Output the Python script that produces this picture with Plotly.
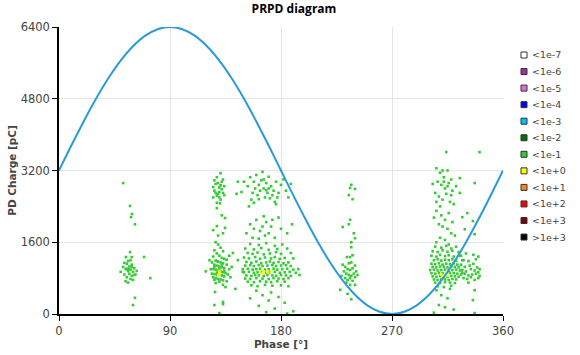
import plotly.graph_objects as go

# ---- reference sine (phase in degrees, charge in pC) ----
SINE_PHASE = [0, 10, 20, 30, 40, 50, 60, 70, 80, 90, 100, 110, 120, 130, 140, 150, 160, 170, 180,
              190, 200, 210, 220, 230, 240, 250, 260, 270, 280, 290, 300, 310, 320, 330, 340, 350, 360]
SINE_CHARGE = [3200, 3756, 4294, 4800, 5257, 5651, 5971, 6207, 6351, 6400, 6351, 6207, 5971, 5651, 5257,
               4800, 4294, 3756, 3200, 2644, 2106, 1600, 1143, 749, 429, 193, 49, 0, 49, 193, 429, 749,
               1143, 1600, 2106, 2644, 3200]

# ---- PD pulses, rate class "<1e-1" (green) : (phase, charge) ----
CLUSTER_A = [(52, 2920), (57.6, 2410), (59.2, 2230), (58.4, 2160), (61.6, 2000), (57.6, 1380), (54.3, 1270),
             (59, 1270), (69, 1270), (74, 800), (61.6, 360), (60, 200),
             (50, 940), (52, 1050), (53, 880), (54, 1000), (55, 1120), (55, 820), (56, 960), (56, 1180),
             (57, 900), (57, 1060), (58, 780), (58, 990), (59, 1100), (59, 850), (60, 940), (61, 1020),
             (62, 880), (63, 960), (54, 730), (56, 700), (58, 1200), (60, 760), (53, 1140), (57, 1000),
             (61, 870), (55, 1010), (59, 1050)]

CLUSTER_B = [(125, 2600), (126, 2750), (127, 2900), (128, 3050), (129, 2680), (130, 2820), (131, 3140),
             (132, 2950), (133, 2700), (134, 2850), (126, 2980), (128, 2640), (130, 2600), (132, 2780),
             (127, 2700), (129, 2920), (131, 2870), (133, 3000), (125, 2830), (134, 2650), (130, 2720),
             (128, 2480), (131, 2550),
             (144, 2680), (148, 2720), (128, 2360), (130.5, 2470), (145, 2950),
             (134.6, 2140), (128, 1960), (134.6, 1920), (133, 1800), (125, 1870), (132, 2200), (129, 1750),
             (127, 1600), (129, 1550), (131, 1480), (126, 1420), (133, 1400), (128, 1350), (130, 1300),
             (125, 1280), (132, 1250), (134, 1230), (136, 1210), (127, 1190), (129, 1170), (131, 1150),
             (133, 1130), (126, 1100), (128, 1080), (130, 1060), (132, 1040), (134, 1020), (125, 1000),
             (127, 990), (129, 970), (131, 950), (133, 930), (135, 910), (126, 890), (128, 870), (132, 860),
             (134, 840), (125, 820), (127, 800), (129, 780), (131, 770), (133, 750), (136, 730), (124, 900),
             (123, 1000), (138, 1000), (137, 880), (139, 820), (126, 760), (130, 720), (128, 1180),
             (132, 1100), (130, 1010), (128, 920), (134, 960), (126, 1050), (136, 1100), (124, 1150),
             (138, 1300), (140, 1050), (127, 690), (133, 650),
             (141, 1360), (149, 940), (143, 560), (126.5, 490), (133, 270), (133, 220), (130, 20),
             (126, 200), (122, 1200), (119, 950), (145, 1200), (135, 600)]

CLUSTER_C = [(165, 3170), (155, 3050), (158, 2950), (160, 3100), (162, 2880), (164, 2980), (166, 2800),
             (168, 2920), (170, 3060), (172, 2850), (174, 2750), (176, 2950), (178, 2700), (153, 2850),
             (157, 2700), (159, 2800), (161, 2650), (163, 2750), (167, 2600), (169, 2700), (171, 2580),
             (173, 2650), (175, 2500), (177, 2600), (156, 2550), (158, 2480), (166, 3000), (168, 2760),
             (162, 2560), (170, 2800), (180, 2880), (184, 2750), (186, 2600), (150, 2950), (182, 3000),
             (154, 2400), (188, 2900), (176, 2450),
             (155, 2000), (158, 1900), (160, 2100), (163, 1850), (165, 1950), (167, 1750), (168, 2050),
             (170, 1800), (172, 1950), (175, 1700), (178, 2150), (180, 1900), (157, 1700), (162, 1680),
             (173, 2100), (185, 1800), (189, 2000), (152, 1800), (166, 2180),
             (155, 1560), (162, 1540), (168, 1580), (175, 1520), (181, 1550),
             (151, 1460), (158, 1440), (164, 1470), (170, 1430), (177, 1450), (185, 1460),
             (153, 1360), (157, 1340), (161, 1370), (166, 1330), (171, 1350), (176, 1380), (180, 1340),
             (188, 1360),
             (150, 1260), (154, 1240), (159, 1270), (163, 1230), (167, 1260), (172, 1240), (175, 1270),
             (179, 1230), (183, 1250), (190, 1240),
             (152, 1160), (156, 1140), (160, 1170), (164, 1130), (168, 1150), (171, 1170), (174, 1140),
             (178, 1160), (182, 1130), (186, 1150),
             (151, 1080), (155, 1090), (158, 1070), (162, 1090), (165, 1070), (169, 1080), (173, 1090),
             (176, 1070), (180, 1080), (184, 1090), (188, 1070),
             (149, 1000), (153, 1010), (157, 990), (160, 1000), (163, 1010), (167, 990), (170, 1000),
             (174, 1010), (177, 990), (181, 1000), (185, 1010), (190, 990), (194, 1000),
             (150, 930), (154, 940), (158, 920), (161, 930), (164, 940), (168, 920), (171, 930), (175, 940),
             (179, 920), (183, 930), (187, 940), (192, 920),
             (152, 860), (156, 850), (159, 870), (162, 860), (166, 850), (169, 870), (173, 860), (176, 850),
             (180, 870), (184, 860), (188, 850), (195, 870),
             (151, 790), (155, 780), (160, 800), (165, 790), (170, 780), (174, 800), (178, 790), (182, 780),
             (186, 800),
             (153, 720), (158, 710), (163, 730), (168, 720), (172, 710), (177, 730), (183, 720),
             (156, 640), (161, 620), (167, 650), (173, 630), (180, 640), (186, 620),
             (160, 520), (172, 480), (165, 420), (178, 380), (155, 350), (170, 300), (183, 250), (162, 180),
             (175, 120), (190, 60), (168, 40), (185, 10)]

CLUSTER_D = [(237, 2880), (236, 2810), (240, 2790), (235, 2650), (238, 2560), (236, 2100), (230, 1940),
             (235, 2000), (239, 1800), (240, 1690), (237, 1600), (237, 1490), (233.5, 1270), (236, 1270),
             (238, 1310),
             (230, 1100), (232, 1050), (234, 1000), (236, 980), (238, 1020), (240, 1080), (231, 950),
             (233, 900), (235, 870), (237, 850), (239, 900), (241, 950), (232, 800), (234, 760), (236, 800),
             (238, 740), (240, 820), (229, 850), (242, 870), (235, 1130), (237, 1150), (233, 700),
             (236, 650),
             (228, 540), (237, 330), (240, 650), (234, 450)]

CLUSTER_E = [(314, 3610),
             (306, 3250), (309, 3150), (312, 3050), (315, 3200), (318, 3000), (307, 2950), (310, 2880),
             (313, 2800), (316, 2920), (319, 2750), (305, 2700), (308, 2620), (311, 2550), (314, 2680),
             (317, 2500), (320, 2450), (309, 2400), (312, 2950), (315, 2850), (306, 2500), (318, 2650),
             (322, 2850), (303, 2900), (311, 3200),
             (306, 2300), (310, 2200), (313, 2100), (316, 2250), (308, 2000), (311, 1950), (315, 1900),
             (319, 2050), (304, 2150), (318, 1800), (309, 1700), (313, 1650), (306, 1600), (316, 1550),
             (321, 1750),
             (305, 1500), (310, 1480), (314, 1520), (318, 1460), (322, 1500),
             (303, 1400), (307, 1380), (311, 1420), (315, 1390), (319, 1410), (324, 1380),
             (302, 1300), (306, 1280), (309, 1320), (313, 1290), (316, 1310), (320, 1280), (326, 1300),
             (304, 1200), (307, 1220), (310, 1190), (313, 1210), (316, 1200), (319, 1220), (322, 1190),
             (328, 1200),
             (302, 1120), (305, 1110), (308, 1130), (311, 1100), (314, 1120), (317, 1110), (320, 1130),
             (323, 1100),
             (303, 1050), (306, 1040), (309, 1060), (312, 1050), (315, 1040), (318, 1060), (321, 1050),
             (324, 1040),
             (301, 980), (304, 990), (307, 970), (310, 980), (313, 990), (316, 970), (319, 980), (322, 990),
             (325, 970),
             (302, 910), (305, 900), (308, 920), (311, 910), (314, 900), (317, 920), (320, 910), (323, 900),
             (327, 920),
             (303, 840), (306, 830), (309, 850), (312, 840), (315, 830), (318, 850), (321, 840), (324, 830),
             (304, 770), (307, 760), (310, 780), (313, 770), (316, 760), (319, 780), (322, 770),
             (305, 700), (309, 690), (313, 710), (317, 700), (321, 690),
             (307, 620), (312, 600), (318, 630),
             (306, 530), (310, 420), (315, 350), (308, 200), (313, 150), (320, 100), (304, 30), (317, 560),
             (325, 1300), (330, 1350), (336, 1320), (340, 1280), (327, 1200), (332, 1180), (338, 1220),
             (326, 1100), (329, 1050), (333, 1080), (336, 1120), (339, 1040), (341, 1000), (327, 980),
             (330, 950), (334, 1000), (337, 970), (340, 930), (326, 880), (329, 900), (332, 860), (335, 880),
             (338, 900), (341, 850), (328, 800), (331, 780), (334, 820), (337, 760), (340, 800), (332, 700),
             (337, 2920), (341, 3610), (325, 3030), (325, 2700), (331, 2250), (335.6, 2070), (329, 1890),
             (337, 1780), (327, 2160), (337, 530), (335.6, 310), (337, 20)]

# ---- PD pulses, rate class "<1e+0" (yellow) ----
YELLOW = [(130, 910), (130, 960), (129, 870), (163, 940), (166, 950), (169, 930), (172, 940), (165, 900),
          (310, 880), (312, 850), (314, 910), (311, 820), (315, 860)]

# ---- legend classes ----
LEGEND_LABELS = ["<1e-7", "<1e-6", "<1e-5", "<1e-4", "<1e-3", "<1e-2", "<1e-1",
                 "<1e+0", "<1e+1", "<1e+2", "<1e+3", ">1e+3"]
LEGEND_COLORS = ["#ffffff", "#a0309f", "#da70d6", "#0000ff", "#00bfff", "#007000", "#33cc33",
                 "#ffff00", "#ff8020", "#ff0000", "#7a0010", "#000000"]

X_TICKS = [0, 90, 180, 270, 360]
Y_TICKS = [0, 1600, 3200, 4800, 6400]

W, H = 580, 355
ML, MR, MT, MB = 59, 77, 27, 41
PW, PH = W - ML - MR, H - MT - MB

green = CLUSTER_A + CLUSTER_B + CLUSTER_C + CLUSTER_D + CLUSTER_E

fig = go.Figure()
fig.add_trace(go.Scatter(x=[p for p, q in green], y=[q for p, q in green], mode="markers",
                         marker=dict(symbol="square", size=2.6, color="#33cc33", line=dict(width=0)),
                         showlegend=False, hoverinfo="skip"))
fig.add_trace(go.Scatter(x=[p for p, q in YELLOW], y=[q for p, q in YELLOW], mode="markers",
                         marker=dict(symbol="square", size=2.6, color="#ffff00", line=dict(width=0)),
                         showlegend=False, hoverinfo="skip"))
fig.add_trace(go.Scatter(x=SINE_PHASE, y=SINE_CHARGE, mode="lines",
                         line=dict(color="#2b9ad9", width=2, shape="spline"),
                         showlegend=False, hoverinfo="skip"))

# custom compact legend (squares + labels) on the right
shapes, annotations = [], []
for i, (lab, col) in enumerate(zip(LEGEND_LABELS, LEGEND_COLORS)):
    yc = 55 + i * 16.55                      # screen px centre
    ypap = (H - MB - yc) / PH
    half = 3 / PH
    shapes.append(dict(type="rect", xref="paper", yref="paper",
                       x0=(521 - ML) / PW, x1=(527 - ML) / PW, y0=ypap - half, y1=ypap + half,
                       fillcolor=col, line=dict(color="#333333", width=1)))
    annotations.append(dict(text=lab, xref="paper", yref="paper", x=(530 - ML) / PW, y=ypap,
                            xanchor="left", yanchor="middle", showarrow=False,
                            font=dict(family="DejaVu Sans", size=9.5, color="#444444")))

axis_common = dict(showline=True, linecolor="#000000", linewidth=1.5, ticks="outside", ticklen=5,
                   tickcolor="#000000", showgrid=True, gridcolor="#e5e5e5", gridwidth=1, zeroline=False,
                   tickfont=dict(family="DejaVu Sans", size=11.5, color="#444444"), automargin=False)

fig.update_layout(
    width=W, height=H, autosize=False,
    margin=dict(l=ML, r=MR, t=MT, b=MB, pad=0),
    paper_bgcolor="white", plot_bgcolor="white",
    showlegend=False,
    title=dict(text="<b>PRPD diagram</b>", x=294 / W, xref="container", xanchor="center",
               y=1 - 9 / H, yref="container", yanchor="middle",
               font=dict(family="Open Sans", size=12, color="#000000")),
    xaxis=dict(range=[0, 360], tickvals=X_TICKS,
               title=dict(text="<b>Phase [°]</b>", standoff=4,
                          font=dict(family="DejaVu Sans", size=10.5, color="#444444")), **axis_common),
    yaxis=dict(range=[0, 6400], tickvals=Y_TICKS,
               title=dict(text="<b>PD Charge [pC]</b>", standoff=2,
                          font=dict(family="DejaVu Sans", size=10.5, color="#444444")), **axis_common),
    shapes=shapes, annotations=annotations,
)

fig.write_html("out.html", config={"displayModeBar": False},
               post_script="document.body.style.margin='0';")
